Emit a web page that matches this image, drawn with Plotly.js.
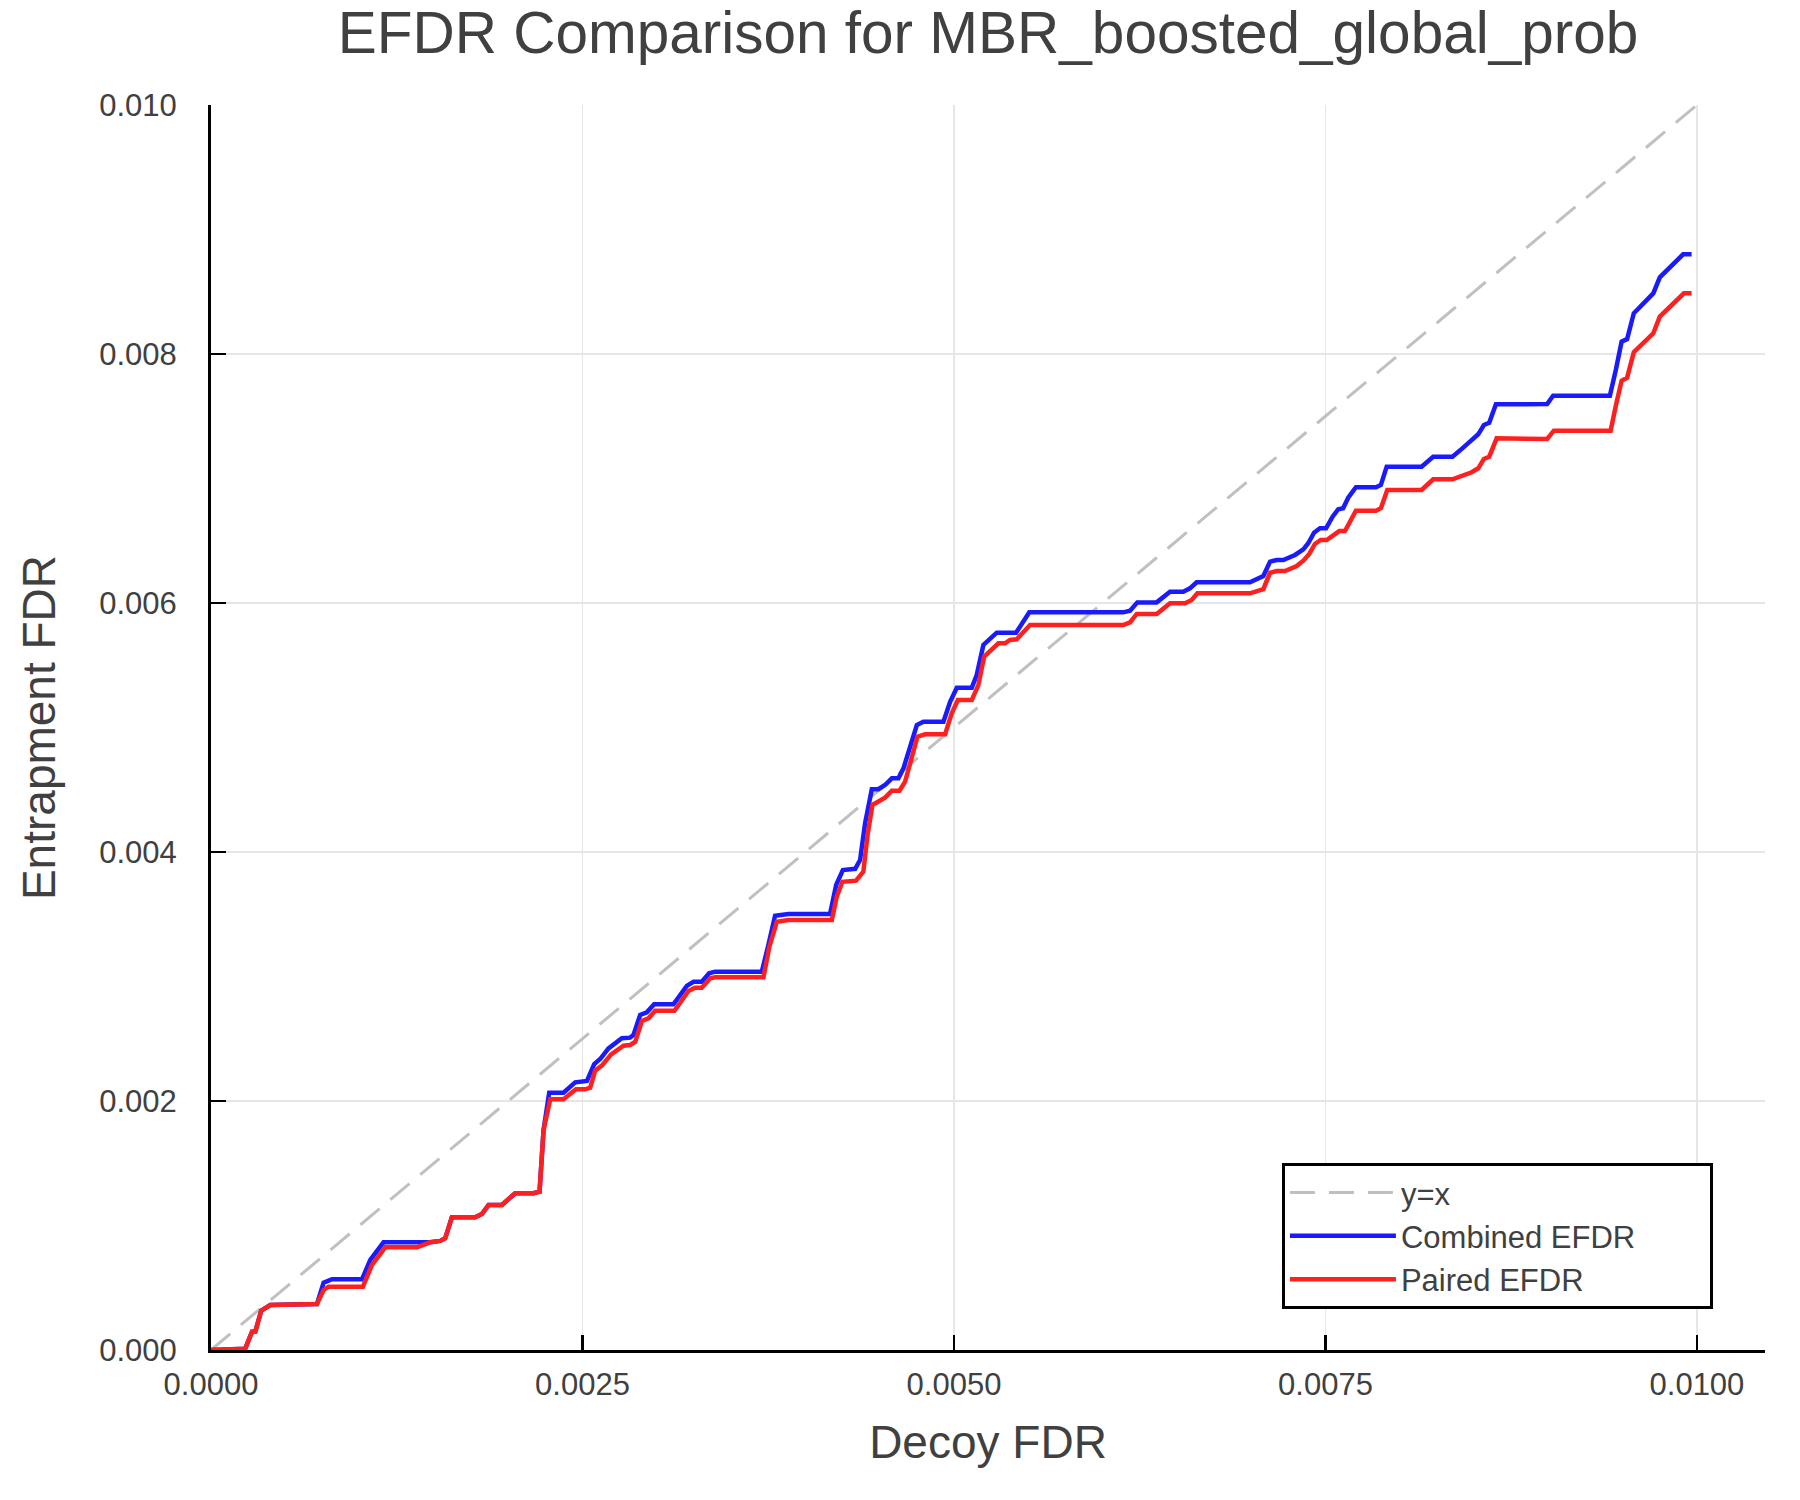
<!DOCTYPE html>
<html>
<head>
<meta charset="utf-8">
<script src="https://cdn.plot.ly/plotly-3.0.1.min.js"></script>
<style>
  html, body { margin: 0; padding: 0; background: #ffffff; }
  #chart { width: 1800px; height: 1500px; }
</style>
</head>
<body>
<div id="chart"></div>
<script>
// EFDR の比較(Decoy FDR に対する Entrapment FDR)。値はすべて図から読み取った概算。

const identityX = [0, 0.01]
const identityY = [0, 0.01]

// Combined EFDR(青)
const combinedDecoyFdr = [
  0, 0.00023, 0.000276, 0.000298, 0.000338, 0.000399, 0.000713, 0.000758, 0.000814, 0.001016,
  0.001072, 0.001161, 0.001475, 0.001543, 0.001576, 0.001621, 0.001778, 0.001823, 0.001868, 0.001958,
  0.002047, 0.00217, 0.002211, 0.002238, 0.002276, 0.002372, 0.002451, 0.00253, 0.002579, 0.002619,
  0.002675, 0.002765, 0.002821, 0.002843, 0.002888, 0.002933, 0.002982, 0.003112, 0.003202, 0.003247,
  0.003303, 0.003352, 0.003393, 0.003707, 0.003751, 0.003796, 0.003886, 0.004166, 0.004207, 0.004252,
  0.004335, 0.004368, 0.004402, 0.004447, 0.004491, 0.004536, 0.004582, 0.004626, 0.00466, 0.004705,
  0.00475, 0.004794, 0.004929, 0.004974, 0.005019, 0.00512, 0.005153, 0.005198, 0.005288, 0.005418,
  0.005507, 0.00614, 0.006185, 0.006234, 0.006364, 0.006454, 0.006543, 0.006588, 0.006633, 0.006992,
  0.007082, 0.007127, 0.007172, 0.007216, 0.007295, 0.007351, 0.007384, 0.007423, 0.007463, 0.007504,
  0.007548, 0.007586, 0.007619, 0.007653, 0.007705, 0.00784, 0.007873, 0.007912, 0.008147, 0.008225,
  0.008355, 0.008427, 0.00849, 0.008528, 0.008566, 0.008602, 0.008647, 0.008992, 0.009032, 0.009414,
  0.009454, 0.009493, 0.00953, 0.009575, 0.009706, 0.00975, 0.009907, 0.009964
]
const combinedEfdr = [
  0, 0.00001, 0.000147, 0.000147, 0.000316, 0.000361, 0.00037, 0.00054, 0.000568, 0.000568,
  0.000723, 0.000865, 0.000865, 0.000876, 0.000897, 0.001066, 0.001066, 0.001092, 0.001165, 0.001165,
  0.001259, 0.001259, 0.001272, 0.001767, 0.002067, 0.002067, 0.00215, 0.002161, 0.002297, 0.002337,
  0.002423, 0.002504, 0.002509, 0.00253, 0.002691, 0.002712, 0.002777, 0.002777, 0.002924, 0.002958,
  0.002958, 0.003026, 0.003039, 0.003039, 0.003253, 0.003488, 0.003502, 0.003502, 0.003735, 0.003855,
  0.003865, 0.003936, 0.004231, 0.004504, 0.004504, 0.004538, 0.004592, 0.004592, 0.004672, 0.00486,
  0.00502, 0.005047, 0.005047, 0.005207, 0.00532, 0.00532, 0.005422, 0.005663, 0.005762, 0.005762,
  0.005925, 0.005925, 0.005938, 0.006005, 0.006005, 0.006091, 0.006091, 0.006118, 0.006166, 0.006166,
  0.006217, 0.006332, 0.006345, 0.006345, 0.006386, 0.006431, 0.00648, 0.006565, 0.0066, 0.0066,
  0.006693, 0.006753, 0.006761, 0.006846, 0.00693, 0.00693, 0.006948, 0.007095, 0.007095, 0.007175,
  0.007175, 0.007248, 0.007309, 0.007355, 0.00743, 0.007448, 0.007596, 0.007598, 0.007665, 0.007665,
  0.007871, 0.008099, 0.00812, 0.008327, 0.008487, 0.008616, 0.008801, 0.008801
]

// Paired EFDR(赤)
const pairedDecoyFdr = [
  0, 0.00023, 0.000276, 0.000298, 0.000338, 0.000399, 0.000713, 0.000758, 0.000791, 0.001022,
  0.001083, 0.001173, 0.001386, 0.001475, 0.001543, 0.001576, 0.001621, 0.001778, 0.001823, 0.001868,
  0.001958, 0.002047, 0.00217, 0.002211, 0.002238, 0.002283, 0.002372, 0.002456, 0.002518, 0.002552,
  0.002585, 0.00263, 0.002693, 0.002776, 0.002821, 0.002855, 0.0029, 0.002944, 0.002989, 0.003119,
  0.003213, 0.003258, 0.003303, 0.003359, 0.003393, 0.003718, 0.003758, 0.003808, 0.003886, 0.004178,
  0.004211, 0.004249, 0.004341, 0.00439, 0.004417, 0.004451, 0.004536, 0.004582, 0.004633, 0.004671,
  0.004705, 0.004754, 0.004806, 0.00494, 0.004985, 0.005026, 0.00512, 0.005164, 0.005203, 0.005299,
  0.005344, 0.005377, 0.005422, 0.005512, 0.00614, 0.006185, 0.00623, 0.006364, 0.006454, 0.006555,
  0.0066, 0.006638, 0.006992, 0.007082, 0.007127, 0.007172, 0.007228, 0.007306, 0.007351, 0.007391,
  0.007429, 0.007468, 0.007508, 0.007553, 0.007593, 0.007631, 0.007665, 0.007705, 0.00784, 0.007873,
  0.007916, 0.008147, 0.008225, 0.008355, 0.008484, 0.008528, 0.008566, 0.008602, 0.008652, 0.008992,
  0.009037, 0.009419, 0.009454, 0.009493, 0.00953, 0.009575, 0.009706, 0.00975, 0.009912, 0.009964
]
const pairedEfdr = [
  0, 0.00001, 0.000147, 0.000147, 0.000316, 0.000361, 0.00037, 0.000482, 0.000509, 0.000509,
  0.000683, 0.000825, 0.000825, 0.000865, 0.000876, 0.000897, 0.001066, 0.001066, 0.001092, 0.001165,
  0.001165, 0.001259, 0.001259, 0.001272, 0.001767, 0.002014, 0.002014, 0.002094, 0.002094, 0.002107,
  0.002244, 0.002284, 0.002375, 0.002444, 0.00245, 0.002476, 0.002643, 0.002664, 0.002725, 0.002725,
  0.002884, 0.00291, 0.00291, 0.002986, 0.002994, 0.002994, 0.00324, 0.00344, 0.003454, 0.003454,
  0.003641, 0.003761, 0.00377, 0.003842, 0.004123, 0.004378, 0.004437, 0.004492, 0.004492, 0.004565,
  0.004712, 0.004926, 0.004945, 0.004945, 0.005114, 0.005221, 0.005221, 0.005341, 0.005569, 0.005676,
  0.005676, 0.005703, 0.005708, 0.005823, 0.005823, 0.005845, 0.005912, 0.005912, 0.005998, 0.005998,
  0.006024, 0.006078, 0.006078, 0.006112, 0.006243, 0.006257, 0.006257, 0.006297, 0.00634, 0.006394,
  0.006474, 0.006506, 0.006506, 0.006546, 0.006578, 0.006578, 0.006661, 0.006741, 0.006741, 0.006761,
  0.006908, 0.006908, 0.006994, 0.006994, 0.00705, 0.007082, 0.007157, 0.007175, 0.007323, 0.007317,
  0.007384, 0.007384, 0.007585, 0.007785, 0.00781, 0.008014, 0.008166, 0.0083, 0.008487, 0.008487
]

const textColor = "#404040"
const fontFamily = "'Liberation Sans', Arial, Helvetica, sans-serif"
// 凡例枠を元図と同じ幅にするための右側の余白(縦並びの凡例は entrywidth が効かない)
const legendPad = "\u00a0".repeat(8)

const traces = [
  {
    x: identityX, y: identityY, name: "y=x", type: "scatter", mode: "lines",
    line: { color: "#c0c0c0", width: 3, dash: "25px,14px" }
  },
  {
    x: combinedDecoyFdr, y: combinedEfdr, name: "Combined EFDR" + legendPad, type: "scatter", mode: "lines",
    line: { color: "#1a1aff", width: 4.5 }
  },
  {
    x: pairedDecoyFdr, y: pairedEfdr, name: "Paired EFDR", type: "scatter", mode: "lines",
    line: { color: "#ff1f1f", width: 4.5 }
  }
]

// 軸は左と下だけ、目盛りは内向き(元図の体裁に合わせる)
const axisBase = {
  showline: true, linecolor: "#000000", linewidth: 3, mirror: false,
  ticks: "inside", ticklen: 15, tickwidth: 2.5, tickcolor: "#000000",
  showgrid: true, gridcolor: "#e6e6e6", gridwidth: 1.5,
  zeroline: false,
  tickfont: { family: fontFamily, size: 31, color: textColor }
}

const layout = {
  width: 1800,
  height: 1500,
  paper_bgcolor: "#ffffff",
  plot_bgcolor: "#ffffff",
  font: { family: fontFamily, color: textColor },
  margin: { l: 211, r: 35, t: 105, b: 150 },
  title: {
    text: "EFDR Comparison for MBR_boosted_global_prob",
    font: { family: fontFamily, size: 58.5, color: textColor },
    x: 0.5, xref: "paper", xanchor: "center",
    y: 0.992, yref: "container", yanchor: "top"
  },
  xaxis: {
    ...axisBase,
    range: [0, 0.010458],
    tickvals: [0, 0.0025, 0.005, 0.0075, 0.01],
    tickformat: ".4f",
    ticklabelstandoff: 5,
    title: { text: "Decoy FDR", font: { family: fontFamily, size: 46, color: textColor }, standoff: 25 }
  },
  yaxis: {
    ...axisBase,
    range: [0, 0.01],
    tickvals: [0, 0.002, 0.004, 0.006, 0.008, 0.01],
    tickformat: ".3f",
    ticklabelstandoff: 25,
    title: { text: "Entrapment FDR", font: { family: fontFamily, size: 46, color: textColor }, standoff: 30 }
  },
  showlegend: true,
  legend: {
    x: 0.9665, xanchor: "right",
    y: 0.033, yanchor: "bottom",
    bgcolor: "#ffffff",
    bordercolor: "#000000",
    borderwidth: 3,
    font: { family: fontFamily, size: 31, color: textColor },
    itemwidth: 106,
    tracegroupgap: 0
  }
}

Plotly.newPlot("chart", traces, layout, { displayModeBar: false, staticPlot: true })
</script>
</body>
</html>
